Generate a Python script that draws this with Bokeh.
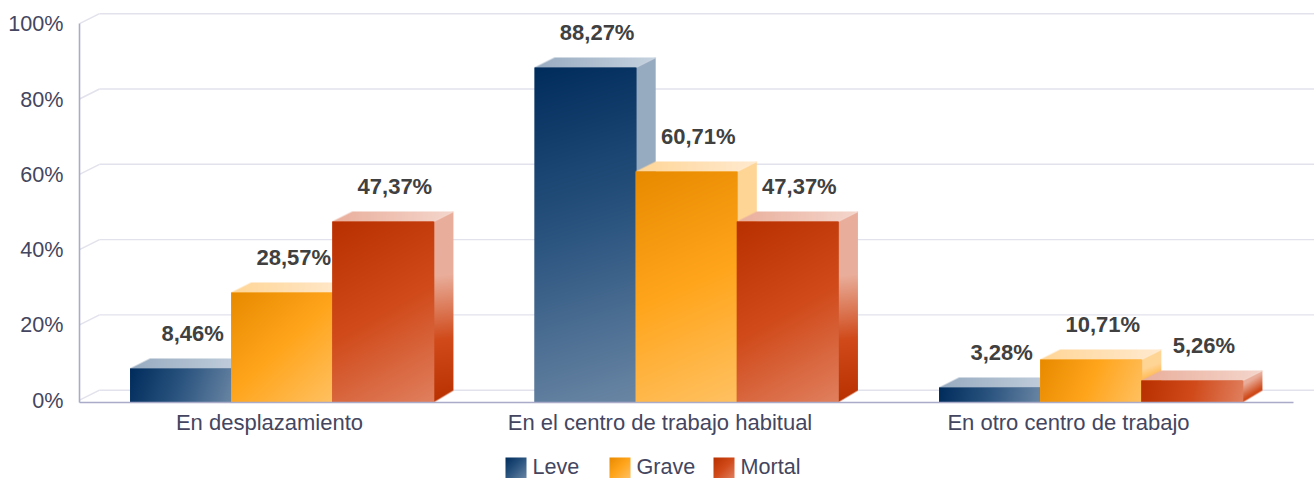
import numpy as np
from bokeh.core.properties import value
from bokeh.embed import file_html
from bokeh.models import ColumnDataSource, FixedTicker, Range1d
from bokeh.plotting import figure
from bokeh.resources import INLINE

categories = ["En desplazamiento", "En el centro de trabajo habitual", "En otro centro de trabajo"]
series_names = ["Leve", "Grave", "Mortal"]
leve = [8.46, 88.27, 3.28]
grave = [28.57, 60.71, 10.71]
mortal = [47.37, 47.37, 5.26]
y_ticks = [0, 20, 40, 60, 80, 100]
label_positions = [0.4697, 1.4351, 2.4450]

FONT = "Liberation Sans"
TXT = "#44465F"
VAL = "#404040"
GRID = "#E2E2EC"
AXIS = "#A9ABC8"
PX_SLOT = 404.5
PX_UNIT = 3.765
ZERO_PX = 399.7
FLOOR_PX = 402
DX, DY = 20, 10
SIDE_DROP = 12
BAR_W = 0.25

STYLES = {
    "Leve": dict(front=["#002C5C", "#2C5580", "#6A86A4"], side=["#97ABC0", "#97ABC0", "#2C5580", "#002C5C"],
                 top=["#97ABC0", "#C6D2DF"]),
    "Grave": dict(front=["#E88A00", "#FFA51C", "#FFC162"], side=["#FFD596", "#FFD596", "#FFA51C", "#E88A00"],
                  top=["#FFD596", "#FFEAD0"]),
    "Mortal": dict(front=["#B83000", "#D04A1A", "#E0805F"], side=["#E9AE9B", "#E9AE9B", "#D04A1A", "#B83000"],
                   top=["#E9AE9B", "#F4D6CC"]),
}


def rgb(h):
    return [int(h[i:i + 2], 16) for i in (1, 3, 5)]


def ramp(t, stops):
    pos = np.linspace(0, 1, len(stops))
    arr = np.array([rgb(s) for s in stops], dtype=float)
    return np.stack([np.interp(t, pos, arr[:, k]) for k in range(3)], axis=-1)


def to_image(t, stops, alpha):
    col = ramp(t, stops)
    out = np.zeros(t.shape, dtype=np.uint32)
    v = out.view(dtype=np.uint8).reshape(t.shape + (4,))
    v[..., :3] = np.round(col).astype(np.uint8)
    v[..., 3] = np.round(alpha * 255).astype(np.uint8)
    return out[::-1].copy()


def grid_px(w, h, ss=4):
    xs = (np.arange(w * ss) + .5) / ss
    ys = (np.arange(h * ss) + .5) / ss
    return np.meshgrid(xs, ys)


def reduce(a, ss=4):
    h, w = a.shape
    return a.reshape(h // ss, ss, w // ss, ss).mean(axis=(1, 3))


def diag(x, y, w, h):
    return np.clip((x * w + y * h) / (w * w + h * h), 0, 1)


def front_img(w, h, stops):
    h = max(h, 1)
    x, y = grid_px(w, h, 1)
    return to_image(diag(x, y, w, h), stops, np.ones((h, w)))


def top_img(w, stops):
    W, H = w + DX, DY
    x, y = grid_px(W, H)
    m = (x >= DX * (H - y) / H) & (x <= w + DX * (H - y) / H)
    return to_image(reduce(diag(x, y, W, H)), stops, reduce(m.astype(float)))


def side_img(h, stops):
    W, H = DX, h + DY
    x, y = grid_px(W, H)
    m = (y >= DY - x * DY / DX) & (y <= H - x * SIDE_DROP / DX)
    return to_image(reduce(diag(x, y, W, H)), stops, reduce(m.astype(float)))


plot_w, main_h, leg_h = 1314, 446, 32
x_end = (1314 - 79) / PX_SLOT
y_start = -(FLOOR_PX - ZERO_PX) / PX_UNIT
y_end = ZERO_PX / PX_UNIT

p = figure(width=plot_w, height=main_h, output_backend="svg", toolbar_location=None,
           x_range=Range1d(0, x_end), y_range=Range1d(y_start, y_end),
           min_border_left=79, min_border_right=0, min_border_top=0, min_border_bottom=main_h - FLOOR_PX)
p.outline_line_color = None
p.grid.visible = False
p.background_fill_color = None
p.border_fill_color = None

ux = 1 / PX_SLOT
uy = 1 / PX_UNIT

# perspective grid
ty = np.array(y_ticks, dtype=float)
p.segment(x0=[0] * len(ty), y0=ty, x1=[DX * ux] * len(ty), y1=ty + DY * uy, line_color=GRID, line_width=1.4)
p.segment(x0=[DX * ux] * len(ty), y0=ty + DY * uy, x1=[x_end] * len(ty), y1=ty + DY * uy,
          line_color=GRID, line_width=1.4)

# bars
all_series = [leve, grave, mortal]
offsets = [-0.25, 0.0, 0.25]
bw_px = int(round(BAR_W * PX_SLOT)) + 1
lab_x, lab_y, lab_t = [], [], []
for g in range(len(categories)):
    for name, vals, off in zip(series_names, all_series, offsets):
        st = STYLES[name]
        v = vals[g]
        xc = g + 0.5 + off
        xl = xc - BAR_W / 2
        xr = xc + BAR_W / 2
        h_px = int(round((v - y_start) * PX_UNIT))
        top = y_start + h_px * uy
        p.image_rgba(image=[side_img(h_px, st["side"])], x=[xr], y=[y_start], dw=[DX * ux], dh=[(h_px + DY) * uy])
        p.image_rgba(image=[top_img(bw_px, st["top"])], x=[xl], y=[top], dw=[(bw_px + DX) * ux], dh=[DY * uy])
        p.vbar(x=[xc], width=[BAR_W], top=[top], bottom=[y_start], fill_color=st["front"][1], line_color=None)
        p.image_rgba(image=[front_img(bw_px, h_px, st["front"])], x=[xl], y=[y_start], dw=[bw_px * ux], dh=[h_px * uy])
        lab_x.append(xc)
        lab_y.append(v)
        lab_t.append(f"{v:.2f}".replace(".", ",") + "%")

p.text(x="x", y="y", text="t", source=ColumnDataSource(dict(x=lab_x, y=lab_y, t=lab_t)),
       x_offset=12, y_offset=-35, text_align="center", text_baseline="middle",
       text_font=value(FONT), text_font_size="22px", text_font_style="bold", text_color=VAL)

# axes
xa = p.xaxis[0]
xa.ticker = FixedTicker(ticks=label_positions)
xa.major_label_overrides = dict(zip(label_positions, categories))
xa.bounds = (0, 3)
xa.axis_line_color = AXIS
xa.axis_line_width = 1.6
xa.major_tick_line_color = None
xa.minor_tick_line_color = None
xa.major_tick_out = 0
xa.major_tick_in = 0
xa.major_label_text_font = FONT
xa.major_label_text_font_size = "22px"
xa.major_label_text_color = TXT
xa.major_label_standoff = 7

ya = p.yaxis[0]
ya.ticker = FixedTicker(ticks=y_ticks)
ya.major_label_overrides = {t: f"{t}%" for t in y_ticks}
ya.bounds = (y_start, 100)
ya.axis_line_color = AXIS
ya.axis_line_width = 1.6
ya.major_tick_line_color = None
ya.minor_tick_line_color = None
ya.major_tick_out = 0
ya.major_tick_in = 0
ya.major_label_text_font = FONT
ya.major_label_text_font_size = "21.6px"
ya.major_label_text_color = TXT
ya.major_label_standoff = 16

# legend row
leg = figure(width=plot_w, height=leg_h, output_backend="svg", toolbar_location=None,
             x_range=Range1d(0, plot_w), y_range=Range1d(0, leg_h),
             min_border_left=0, min_border_right=0, min_border_top=0, min_border_bottom=0)
leg.axis.visible = False
leg.grid.visible = False
leg.outline_line_color = None
leg.background_fill_color = None
leg.border_fill_color = None
swatch_x = [505, 609, 713]
text_x = [532, 636, 740]
for name, sx in zip(series_names, swatch_x):
    leg.image_rgba(image=[front_img(21, 21, STYLES[name]["front"])], x=[sx], y=[0], dw=[21], dh=[21])
leg.text(x=text_x, y=[12] * 3, text=series_names, text_align="left", text_baseline="middle",
         text_font=value(FONT), text_font_size="21.6px", text_color=TXT)

open("out.html", "w").write(file_html([p, leg], INLINE))
